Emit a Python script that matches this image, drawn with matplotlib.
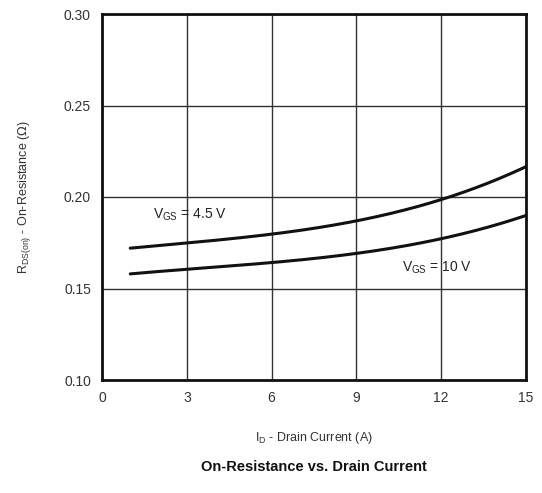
import numpy as np
import matplotlib
matplotlib.use("Agg")
import matplotlib.pyplot as plt

plt.rcParams['font.family'] = ['Liberation Sans', 'DejaVu Sans']

# Drain current (A) and on-resistance (ohm) for the two gate drive levels
drain_current = [1, 3, 6, 9, 12, 14, 15]
rds_vgs_4v5 = [0.172, 0.175, 0.1795, 0.187, 0.199, 0.209, 0.217]
rds_vgs_10v = [0.158, 0.1605, 0.164, 0.1695, 0.177, 0.185, 0.190]

x_ticks = [0, 3, 6, 9, 12, 15]
y_ticks = [0.10, 0.15, 0.20, 0.25, 0.30]

fig = plt.figure(figsize=(5.42, 4.93), dpi=100)
ax = fig.add_axes([102 / 542, 1 - 380 / 493, 424 / 542, 366 / 493])

def smooth(x, y, n=200):
    xs = np.linspace(x[0], x[-1], n)
    coef = np.polyfit(x, y, 3)
    return xs, np.polyval(coef, xs)

for y in (rds_vgs_4v5, rds_vgs_10v):
    xs, ys = smooth(drain_current, y)
    ax.plot(xs, ys, color='#111111', lw=2.2, solid_capstyle='round', zorder=3)

ax.set_xlim(0, 15)
ax.set_ylim(0.10, 0.30)
ax.set_xticks(x_ticks)
ax.set_yticks(y_ticks)
ax.set_xticklabels([str(t) for t in x_ticks])
ax.set_yticklabels([f"{t:.2f}" for t in y_ticks])
ax.grid(True, color='#333333', lw=1.0)
ax.tick_params(length=0, labelsize=10, colors='#333333', pad=8)
for s in ax.spines.values():
    s.set_linewidth(2.0)
    s.set_color('#111111')

ax.text(1.8, 0.1905, r"V$_{\mathregular{GS}}$ = 4.5 V", fontsize=10, color='#222222', va='center')
ax.text(10.6, 0.1615, r"V$_{\mathregular{GS}}$ = 10 V", fontsize=10, color='#222222', va='center')

ax.set_xlabel(r"I$_{\mathregular{D}}$ - Drain Current (A)", fontsize=9, color='#333333', labelpad=18)
ax.set_ylabel(r"R$_{\mathregular{DS(on)}}$ - On-Resistance ($\Omega$)", fontsize=9, color='#333333', labelpad=22)

fig.text(314 / 542, 1 - 467 / 493, "On-Resistance vs. Drain Current", ha='center', va='center',
         fontsize=10.5, fontweight='bold', color='#111111')

fig.savefig("out.png", dpi=100)
